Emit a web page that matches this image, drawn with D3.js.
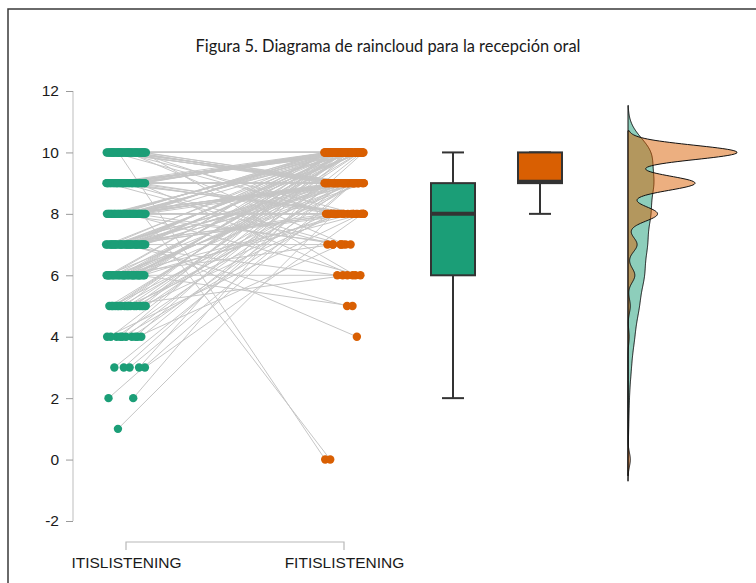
<!DOCTYPE html>
<html>
<head>
<meta charset="utf-8">
<script src="https://cdn.jsdelivr.net/npm/d3@7"></script>
<style>
  body { margin: 0; background: #fff; }
  svg { display: block; }
</style>
</head>
<body>
<svg id="chart" width="756" height="583"></svg>
<script>
// ---- data -------------------------------------------------------------
const groups = ["ITISLISTENING", "FITISLISTENING"];
const preScores = [10, 9, 8, 7, 6, 5, 4, 3, 2, 1];
const postScores = [0, 4, 5, 6, 7, 8, 9, 10];
// rows follow preScores (ITIS), columns follow postScores (FITIS);
// each cell is the number of students with that pair of scores
const pairCounts = [
  [1, 0, 0, 1, 1, 3, 10, 22],
  [0, 0, 0, 1, 2, 5, 12, 19],
  [1, 0, 0, 1, 2, 5, 11, 14],
  [0, 1, 1, 1, 1, 4, 8, 13],
  [0, 0, 1, 1, 1, 3, 7, 12],
  [0, 0, 0, 1, 0, 2, 5, 9],
  [0, 0, 0, 0, 1, 2, 3, 4],
  [0, 0, 0, 0, 0, 1, 2, 2],
  [0, 0, 0, 0, 0, 0, 1, 1],
  [0, 0, 0, 0, 0, 1, 0, 0]
];
const yTicks = [-2, 0, 2, 4, 6, 8, 10, 12];
const groupColors = ["#1b9e77", "#d95f02"];
const kdeBandwidth = [0.51, 0.235];
const titleText = "Figura 5. Diagrama de raincloud para la recepción oral";

// ---- expand the table into one record per student ----------------------
const students = [];
preScores.forEach((pre, r) => {
  postScores.forEach((post, c) => {
    for (let k = 0; k < pairCounts[r][c]; k++) students.push({ pre, post });
  });
});
// deterministic horizontal jitter (low-discrepancy sequences)
const frac = v => v - Math.floor(v);
students.forEach((s, i) => {
  s.jPre = frac(i * 0.6180339 + 0.31) * 2 - 1;
  s.jPost = frac(i * 0.7548777 + 0.03) * 2 - 1;
});
const values = [students.map(s => s.pre), students.map(s => s.post)];

// ---- layout ------------------------------------------------------------
const svg = d3.select("#chart");
const W = 756, H = 583;

const y = d3.scaleLinear().domain([-2, 12]).range([521, 91]);
const xDots = d3.scalePoint().domain(groups).range([126, 344]);
const xBox = d3.scalePoint().domain(groups).range([453, 540]);
const densityBase = 628;
const jitterHalf = 20;

// frame
svg.append("path")
  .attr("d", `M8,${H} V9 H${W}`)
  .attr("fill", "none")
  .attr("stroke", "#3a3a3a")
  .attr("stroke-width", 1.5);

// title
svg.append("text")
  .attr("x", 388).attr("y", 52)
  .attr("text-anchor", "middle")
  .attr("font-family", "Lato, 'Open Sans', sans-serif")
  .attr("font-size", 16.4)
  .attr("fill", "#1a1a1a")
  .text(titleText);

// ---- y axis ------------------------------------------------------------
const axisFont = "'Liberation Sans', Arial, sans-serif";
const yAxis = svg.append("g").attr("transform", "translate(73,0)")
  .call(d3.axisLeft(y).tickValues(yTicks).tickSize(7).tickPadding(7)
        .tickFormat(d3.format("d")));
yAxis.select(".domain").attr("d", `M0,${y(12)}V${y(-2)}`).attr("stroke", "#c8c8c8").attr("stroke-width", 1.2);
yAxis.selectAll(".tick line").attr("stroke", "#9a9a9a").attr("stroke-width", 1);
yAxis.selectAll(".tick text")
  .attr("font-family", axisFont).attr("font-size", 15.5).attr("fill", "#1a1a1a")
  .text(d => d < 0 ? "-" + Math.abs(d) : d);

// ---- x axis (bracket between the two groups) ----------------------------
const xAxis = svg.append("g").attr("transform", "translate(0,542)")
  .call(d3.axisBottom(xDots).tickSize(8).tickPadding(7));
xAxis.select(".domain").attr("d", `M${xDots(groups[0])},8V0H${xDots(groups[1])}V8`)
  .attr("stroke", "#b8b8b8").attr("stroke-width", 1.2);
xAxis.selectAll(".tick line").remove();
xAxis.selectAll(".tick text")
  .attr("font-family", axisFont).attr("font-size", 15.5).attr("fill", "#1a1a1a");

// ---- connecting lines --------------------------------------------------
svg.append("g").selectAll("line").data(students).join("line")
  .attr("x1", d => xDots(groups[0]) + d.jPre * jitterHalf)
  .attr("y1", d => y(d.pre))
  .attr("x2", d => xDots(groups[1]) + d.jPost * jitterHalf)
  .attr("y2", d => y(d.post))
  .attr("stroke", "#c6c6c6")
  .attr("stroke-width", 1);

// ---- points ------------------------------------------------------------
const pts = svg.append("g");
pts.selectAll("circle.pre").data(students).join("circle")
  .attr("class", "pre")
  .attr("cx", d => xDots(groups[0]) + d.jPre * jitterHalf)
  .attr("cy", d => y(d.pre))
  .attr("r", 4.2)
  .attr("fill", groupColors[0]);
pts.selectAll("circle.post").data(students).join("circle")
  .attr("class", "post")
  .attr("cx", d => xDots(groups[1]) + d.jPost * jitterHalf)
  .attr("cy", d => y(d.post))
  .attr("r", 4.2)
  .attr("fill", groupColors[1]);

// ---- box plots ---------------------------------------------------------
function boxStats(arr) {
  const s = arr.slice().sort(d3.ascending);
  const q1 = d3.quantile(s, 0.25), med = d3.quantile(s, 0.5), q3 = d3.quantile(s, 0.75);
  const iqr = q3 - q1;
  const lo = d3.min(s.filter(v => v >= q1 - 1.5 * iqr));
  const hi = d3.max(s.filter(v => v <= q3 + 1.5 * iqr));
  return { q1, med, q3, lo, hi };
}
const boxW = 44, capW = 22;
groups.forEach((g, gi) => {
  const st = boxStats(values[gi]);
  const cx = xBox(g);
  const gb = svg.append("g");
  gb.append("line").attr("x1", cx).attr("x2", cx).attr("y1", y(st.hi)).attr("y2", y(st.q3))
    .attr("stroke", "#333").attr("stroke-width", 2);
  gb.append("line").attr("x1", cx).attr("x2", cx).attr("y1", y(st.q1)).attr("y2", y(st.lo))
    .attr("stroke", "#333").attr("stroke-width", 2);
  gb.append("line").attr("x1", cx - capW / 2).attr("x2", cx + capW / 2).attr("y1", y(st.hi)).attr("y2", y(st.hi))
    .attr("stroke", "#333").attr("stroke-width", 2);
  gb.append("line").attr("x1", cx - capW / 2).attr("x2", cx + capW / 2).attr("y1", y(st.lo)).attr("y2", y(st.lo))
    .attr("stroke", "#333").attr("stroke-width", 2);
  gb.append("rect").attr("x", cx - boxW / 2).attr("width", boxW)
    .attr("y", y(st.q3)).attr("height", y(st.q1) - y(st.q3))
    .attr("fill", groupColors[gi]).attr("stroke", "#333").attr("stroke-width", 2);
  const medY = y(st.med) - (st.med === st.q1 ? 1.5 : 0);
  gb.append("line").attr("x1", cx - boxW / 2).attr("x2", cx + boxW / 2)
    .attr("y1", medY).attr("y2", medY)
    .attr("stroke", "#333").attr("stroke-width", 4);
});

// ---- half-violin densities ---------------------------------------------
function kde(arr, bw) {
  const lo = d3.min(arr) - 3 * bw, hi = d3.max(arr) + 3 * bw;
  const n = 512, c = 1 / (arr.length * bw * Math.sqrt(2 * Math.PI));
  return d3.range(n).map(i => {
    const v = lo + (hi - lo) * i / (n - 1);
    let s = 0;
    for (const a of arr) { const z = (v - a) / bw; s += Math.exp(-0.5 * z * z); }
    return [v, s * c];
  });
}
const densities = values.map((arr, gi) => kde(arr, kdeBandwidth[gi]));
const dMax = d3.max(densities, d => d3.max(d, p => p[1]));
const xDens = d3.scaleLinear().domain([0, dMax]).range([densityBase, densityBase + 109]);

densities.forEach((dens, gi) => {
  const outline = [[densityBase, y(dens[0][0])]]
    .concat(dens.map(p => [xDens(p[1]), y(p[0])]))
    .concat([[densityBase, y(dens[dens.length - 1][0])]]);
  svg.append("path")
    .attr("d", d3.line()(outline) + "Z")
    .attr("fill", groupColors[gi])
    .attr("fill-opacity", 0.5)
    .attr("stroke", "#111")
    .attr("stroke-width", 1);
});
</script>
</body>
</html>
